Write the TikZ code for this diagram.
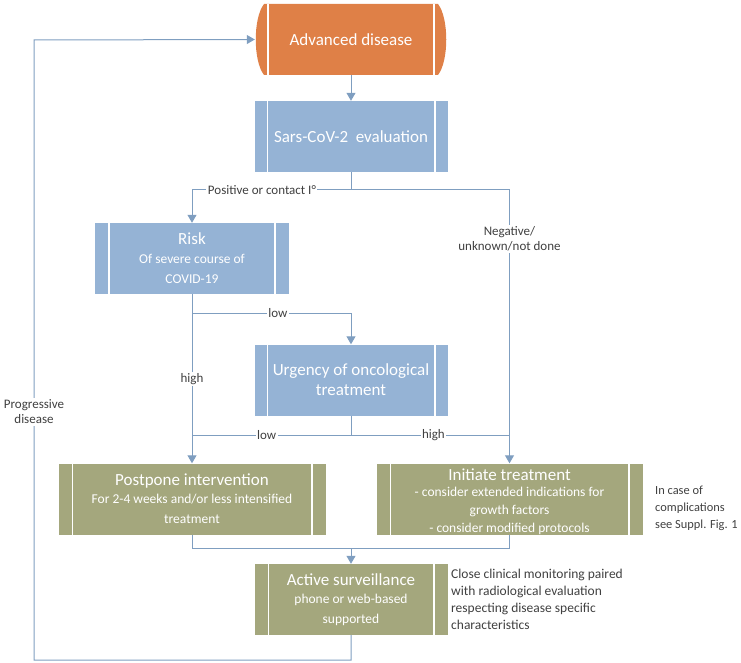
\documentclass[tikz,border=0pt]{standalone}
\usepackage{fontspec}
\setmainfont{Carlito}
\usetikzlibrary{arrows.meta,calc}
\definecolor{orng}{HTML}{DF8047}
\definecolor{bluebox}{HTML}{95B3D5}
\definecolor{greenbox}{HTML}{A4A77D}
\definecolor{linec}{HTML}{7F9EC0}
\definecolor{txt}{HTML}{404040}
\tikzset{
  proc/.style={inner sep=0pt, minimum width=193pt, minimum height=71pt, align=center, text=white, font=\fontsize{17}{20}\selectfont},
  conn/.style={draw=linec, line width=1pt},
  arr/.style={conn, -{Triangle[width=9pt,length=8pt]}},
  lbl/.style={fill=white, inner sep=1.5pt, text=txt, font=\fontsize{13}{15}\selectfont, align=center},
  side/.style={inner sep=0pt, text=txt, font=\fontsize{13.5}{17}\selectfont, align=left},
  wline/.style={draw=white, line width=1.6pt}
}
\newcommand{\subt}[1]{{\fontsize{13.5}{16.5}\selectfont #1}}
\begin{document}
\begin{tikzpicture}[x=1pt,y=-1pt]
\useasboundingbox (0,0) rectangle (741,663);
% Advanced disease
\fill[orng] (264,4) -- (438,4) .. controls (449,18) and (449,61) .. (438,75) -- (264,75) .. controls (253,61) and (253,18) .. (264,4) -- cycle;
\draw[wline] (268,4) -- (268,75);
\draw[wline] (434,4) -- (434,75);
\node[proc, minimum width=192pt] (adv) at (351,39.5) {Advanced disease};
% boxes
\node[proc, fill=bluebox] (sars) at (351,136.5) {Sars-CoV-2~~evaluation};
\node[proc, fill=bluebox, minimum width=194pt] (risk) at (192,258.5) {Risk\\[-1pt]\subt{Of severe course of}\\\subt{COVID-19}};
\node[proc, fill=bluebox] (urg) at (351,380) {Urgency of oncological\\treatment};
\node[proc, fill=greenbox, minimum width=267pt] (post) at (192,499) {Postpone intervention\\[-2pt]\subt{For 2-4 weeks and/or less intensified}\\\subt{treatment}};
\node[proc, fill=greenbox, minimum width=266pt] (init) at (509.5,499) {};
\node[proc, minimum width=230pt] (inittext) at (509.5,502) {Initiate treatment\\[-4pt]\subt{- consider extended indications for}\\[-2pt]\subt{growth factors}\\[-2pt]\subt{- consider modified protocols}};
\node[proc, fill=greenbox] (act) at (351,599.5) {Active surveillance\\[-2pt]\subt{phone or web-based}\\\subt{supported}};
\foreach \n/\d in {sars/13pt,risk/14pt,urg/13pt,post/14pt,init/14pt,act/14pt}{
  \draw[wline] ([xshift=\d]\n.north west) -- ([xshift=\d]\n.south west);
  \draw[wline] ([xshift=-\d]\n.north east) -- ([xshift=-\d]\n.south east);
}
% side texts
\node[side, anchor=west, font=\fontsize{12.4}{17}\selectfont] (note1) at (655,508) {In case of\\complications\\see Suppl. Fig. 1};
\node[side, anchor=west] (note2) at (451,599.5) {Close clinical monitoring paired\\with radiological evaluation\\respecting disease specific\\characteristics};
% junctions
\coordinate (j1) at (351,190);
\coordinate (j2) at (192,313);
\coordinate (j3) at (351,435);
\coordinate (j4) at (351,548);
\coordinate (c1) at (351,660);
\coordinate (c2) at (34,660);
\coordinate (c3) at (34,40);
% connectors
\draw[arr] (adv.south) -- (sars.north);
\draw[conn] (sars.south) -- (j1);
\draw[arr] (j1) -| node[lbl, pos=0.28] {Positive or contact I°} (risk.north);
\draw[arr] (j1) -| node[lbl, pos=0.59] {Negative/\\unknown/not done} (init.north);
\draw[conn] (risk.south) -- (j2);
\draw[arr] (j2) -| node[lbl, pos=0.27] {low} (urg.north);
\draw[arr] (j2) -- node[lbl, pos=0.44] {high} (post.north);
\draw[conn] (urg.south) -- (j3);
\draw[conn] (j3) -- node[lbl, pos=0.53] {low} (post.north |- j3);
\draw[conn] (j3) -- node[lbl, pos=0.52] {high} (init.north |- j3);
\draw[conn] (post.south) |- (j4);
\draw[conn] (init.south) |- (j4);
\draw[arr] (j4) -- (act.north);
\draw[arr] (act.south) -- (c1) -- (c2) -- node[lbl, pos=0.4] {Progressive\\disease} (c3) -- (adv.west);
\end{tikzpicture}
\end{document}
